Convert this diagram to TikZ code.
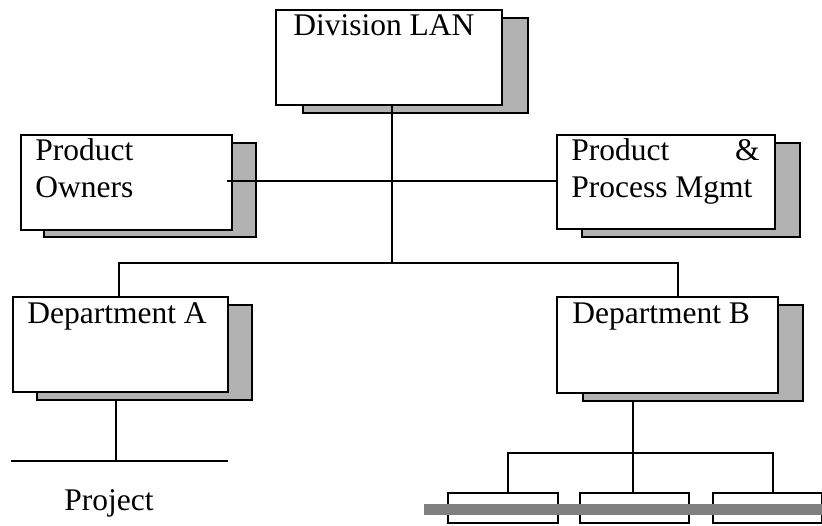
\documentclass[tikz,border=0pt]{standalone}
\usepackage{fontspec}
\setmainfont{Liberation Serif}
\definecolor{shadegray}{gray}{0.70}
\definecolor{bargray}{gray}{0.50}
\begin{document}
\begin{tikzpicture}[x=1pt,y=-1pt,line width=2.6pt,
  panel/.style={draw, fill=white, inner sep=0pt, outer sep=0pt},
  backing/.style={draw, fill=shadegray, inner sep=0pt, outer sep=0pt},
  label/.style={anchor=base west, inner sep=0pt, font=\fontsize{31.5}{37}\selectfont},
  link/.style={draw, line cap=rect},
  plank/.style={draw=bargray, line width=11pt}]
\useasboundingbox (0,0) rectangle (822,525);

% drop shadows behind the panels
\node[backing, minimum width=225pt, minimum height=95pt] (divs)  at (415.5,65.5) {};
\node[backing, minimum width=212pt, minimum height=94pt] (owns)  at (150,190)    {};
\node[backing, minimum width=218pt, minimum height=94pt] (procs) at (691,190)    {};
\node[backing, minimum width=215pt, minimum height=95pt] (depAs) at (144.5,352.5) {};
\node[backing, minimum width=220pt, minimum height=96pt] (depBs) at (693,353)    {};

% panels
\node[panel, minimum width=226pt, minimum height=95pt] (div)  at (389,57.5)   {};
\node[panel, minimum width=211pt, minimum height=95pt] (own)  at (126.5,182.5) {};
\node[panel, minimum width=218pt, minimum height=94pt] (proc) at (666,182)    {};
\node[panel, minimum width=215pt, minimum height=95pt] (depA) at (120.5,344.5) {};
\node[panel, minimum width=221pt, minimum height=96pt] (depB) at (667.5,345)  {};

% captions
\node[label] (tdiv)  at (292,35)  {Division LAN};
\node[label] (town1) at (34,160)  {Product};
\node[label] (town2) at (34,197)  {Owners};
\node[label] (tpr1)  at (570,160) {Product};
\node[label, anchor=base east] (tpr2) at (761,160) {\&};
\node[label] (tpr3)  at (570,197) {Process Mgmt};
\node[label] (tdA)   at (26,323)  {Department A};
\node[label] (tdB)   at (571,323) {Department B};
\node[label] (tprj)  at (63,510)  {Project};

% junction points
\coordinate (tie)  at (392,181);
\coordinate (hub)  at (392,263);
\coordinate (busA) at (119,263);
\coordinate (busB) at (678,263);
\coordinate (dropA) at (116,461);
\coordinate (prjL) at (12,461);
\coordinate (prjR) at (227,461);
\coordinate (dropB) at (633,453);
\coordinate (subL) at (508,453);
\coordinate (subR) at (773,453);

% trunk and cross link
\draw[link] (div.south -| hub) -- (hub);
\draw[link] ([xshift=-4pt]own.east |- tie) -- (proc.west |- tie);

% department bus
\draw[link] (depA.north -| busA) -- (busA) -- (busB) -- (depB.north -| busB);

% project line under Department A
\draw[link] (depAs.south -| dropA) -- (dropA);
\draw[link] (prjL) -- (prjR);

% teams under Department B
\node[panel, minimum width=110pt, minimum height=30pt] (t1) at (503,508)   {};
\node[panel, minimum width=109pt, minimum height=30pt] (t2) at (634.5,508) {};
\node[panel, minimum width=109pt, minimum height=30pt] (t3) at (767.5,508) {};
\draw[link] (depBs.south -| dropB) -- (t2.north -| dropB);
\draw[link] (subL) -- (subR);
\draw[link] (subL) -- (t1.north -| subL);
\draw[link] (subR) -- (t3.north -| subR);

% gray band across the team boxes
\coordinate (barL) at (424,509.5);
\coordinate (barR) at (822,509.5);
\draw[plank] (barL) -- (barR);
\end{tikzpicture}
\end{document}
